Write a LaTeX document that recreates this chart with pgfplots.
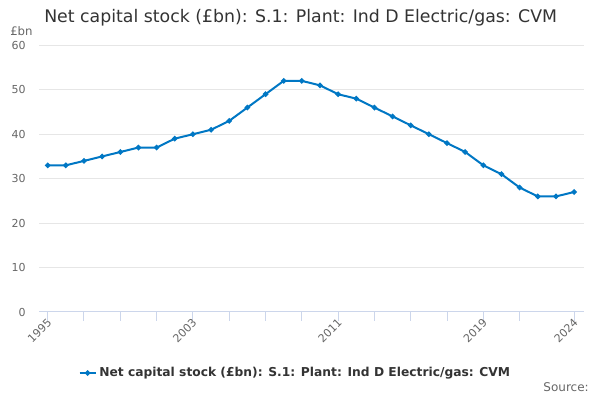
\documentclass[border=0pt]{standalone}
\usepackage{pgfplots}
\pgfplotsset{compat=1.18}
\usepackage{fontspec}
\setmainfont{DejaVu Sans}
\definecolor{lineblue}{HTML}{0077C4}
\definecolor{axisc}{HTML}{CCD6EB}
\definecolor{gridc}{HTML}{E6E6E6}
\definecolor{txt}{HTML}{333333}
\definecolor{lbl}{HTML}{666666}
\begin{document}
\begin{tikzpicture}
\useasboundingbox (0pt,0pt) rectangle (450pt,300pt);
\node[anchor=base west, text=txt, font=\fontsize{13}{15}\selectfont, inner sep=0] at (33pt,282.75pt) {Net capital stock (£bn): S.1: Plant: Ind D Electric/gas: CVM};
\node[anchor=base west, text=lbl, font=\fontsize{8.8}{10}\selectfont, inner sep=0] at (7.5pt,273pt) {£bn};
\node[anchor=base east, text=lbl, font=\fontsize{9}{11}\selectfont, inner sep=0] at (441.75pt,6.2pt) {Source:};
\begin{axis}[
  at={(29.5pt,66pt)}, anchor=origin,
  scale only axis, width=408.3pt, height=200pt,
  xmin=1994.54, xmax=2024.53, ymin=0, ymax=60,
  axis y line*=left, axis x line*=bottom,
  y axis line style={draw=none},
  x axis line style={draw=axisc, line width=0.75pt, -},
  xtick={1995,2003,2011,2019,2024},
  minor xtick={1997,1999,2001,2005,2007,2009,2013,2015,2017,2021},
  ytick={0,10,...,60},
  ymajorgrids, grid style={draw=gridc, line width=0.75pt},
  tick align=outside, major tick length=6.75pt, minor tick length=6.75pt,
  xtick style={draw=axisc, line width=0.75pt},
  minor tick style={draw=axisc, line width=0.75pt},
  ytick style={draw=none},
  x tick label style={rotate=45, anchor=east, font=\fontsize{8.25}{10}\selectfont, text=lbl, xshift=2pt, yshift=-1pt, inner sep=1pt},
  y tick label style={font=\fontsize{8.25}{10}\selectfont, text=lbl},
  yticklabel style={anchor=east, xshift=0pt},
  scaled ticks=false,
  /pgf/number format/assume math mode=true,
  /pgf/number format/1000 sep={},
  clip=false,
  legend style={at={(0.471,-0.229)}, anchor=center, draw=none, fill=none, font=\fontsize{9.2}{11}\selectfont\bfseries, text=txt, legend cell align=left},
  legend image code/.code={\draw[lineblue, line width=1.5pt] (0pt,0pt) -- (12pt,0pt); \fill[lineblue] (6pt,0pt) circle (1.2pt);},
]
\addplot[lineblue, line width=1.5pt, mark=*, mark size=1.2pt, mark options={fill=lineblue, draw=lineblue}] coordinates {
(1995,33) (1996,33) (1997,34) (1998,35) (1999,36) (2000,37) (2001,37) (2002,39) (2003,40) (2004,41)
(2005,43) (2006,46) (2007,49) (2008,52) (2009,52) (2010,51) (2011,49) (2012,48) (2013,46) (2014,44)
(2015,42) (2016,40) (2017,38) (2018,36) (2019,33) (2020,31) (2021,28) (2022,26) (2023,26) (2024,27)
};
\addlegendentry{Net capital stock (£bn): S.1: Plant: Ind D Electric/gas: CVM}
\end{axis}
\end{tikzpicture}
\end{document}
